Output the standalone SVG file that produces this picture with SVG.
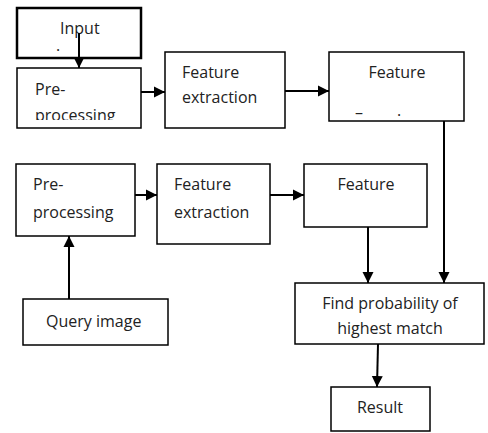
<svg xmlns="http://www.w3.org/2000/svg" width="488" height="433" viewBox="0 0 488 433">
<style>
.box{fill:#fff;stroke:#000;stroke-width:1.5}
.thick{stroke-width:2.5}
.t{font-family:"Open Sans","Liberation Sans",sans-serif;font-size:16px;fill:#222}
.c{text-anchor:middle}
.con line{stroke:#000;stroke-width:2}
</style>
<defs>
<marker id="ah" markerUnits="userSpaceOnUse" markerWidth="12" markerHeight="12" viewBox="0 0 12 12" refX="11" refY="6" orient="auto">
<path d="M0,0.5 L11,6 L0,11.5 z" fill="#000"/>
</marker>
<clipPath id="clipPP1"><rect x="17" y="68" width="124" height="52"/></clipPath>
</defs>
<rect width="488" height="433" fill="#fff"/>
<g id="input"><rect class="box thick" x="17" y="8" width="124" height="50"/><text class="t" x="60" y="34">Input</text><text class="t" x="56" y="51" font-size="10">.</text></g>
<g id="preprocessing1"><rect class="box" x="17" y="68" width="124" height="60"/><g clip-path="url(#clipPP1)"><text class="t" x="35" y="95">Pre-</text><text class="t" x="35" y="121">processing</text></g></g>
<g id="featureextraction1"><rect class="box" x="165" y="52" width="120" height="76"/><text class="t" x="182" y="78">Feature</text><text class="t" x="182" y="103">extraction</text></g>
<g id="feature2"><rect class="box" x="329" y="52" width="135" height="69" stroke-width="2"/><text class="t c" x="397" y="78">Feature</text><text class="t" x="355" y="118" font-size="10">–</text><text class="t" x="397" y="116" font-size="10">.</text></g>
<g id="preprocessing2"><rect class="box" x="16" y="164" width="119" height="72"/><text class="t" x="33" y="190">Pre-</text><text class="t" x="33" y="218">processing</text></g>
<g id="featureextraction2"><rect class="box" x="157" y="164" width="113" height="80"/><text class="t" x="174" y="190">Feature</text><text class="t" x="174" y="218">extraction</text></g>
<g id="feature3"><rect class="box" x="304" y="164" width="123" height="63" stroke-width="2"/><text class="t c" x="366" y="190">Feature</text></g>
<g id="query"><rect class="box" x="23" y="299" width="145" height="46"/><text class="t" x="46" y="327">Query image</text></g>
<g id="findprob"><rect class="box" x="295" y="283" width="189" height="61"/><text class="t c" x="390" y="309">Find probability of</text><text class="t c" x="390" y="334">highest match</text></g>
<g id="result"><rect class="box" x="331" y="387" width="99" height="44"/><text class="t c" x="380" y="413">Result</text></g>
<g id="connectors" class="con">
<line x1="79" y1="33" x2="79" y2="68" marker-end="url(#ah)"/>
<line x1="141" y1="92" x2="165" y2="92" marker-end="url(#ah)"/>
<line x1="285" y1="91" x2="329" y2="91" marker-end="url(#ah)"/>
<line x1="444" y1="121" x2="444" y2="283" marker-end="url(#ah)"/>
<line x1="69" y1="299" x2="69" y2="236" marker-end="url(#ah)"/>
<line x1="135" y1="195" x2="157" y2="195" marker-end="url(#ah)"/>
<line x1="270" y1="195" x2="304" y2="195" marker-end="url(#ah)"/>
<line x1="368" y1="227" x2="368" y2="283" marker-end="url(#ah)"/>
<line x1="378" y1="344" x2="377" y2="387" marker-end="url(#ah)"/>
</g>
</svg>
